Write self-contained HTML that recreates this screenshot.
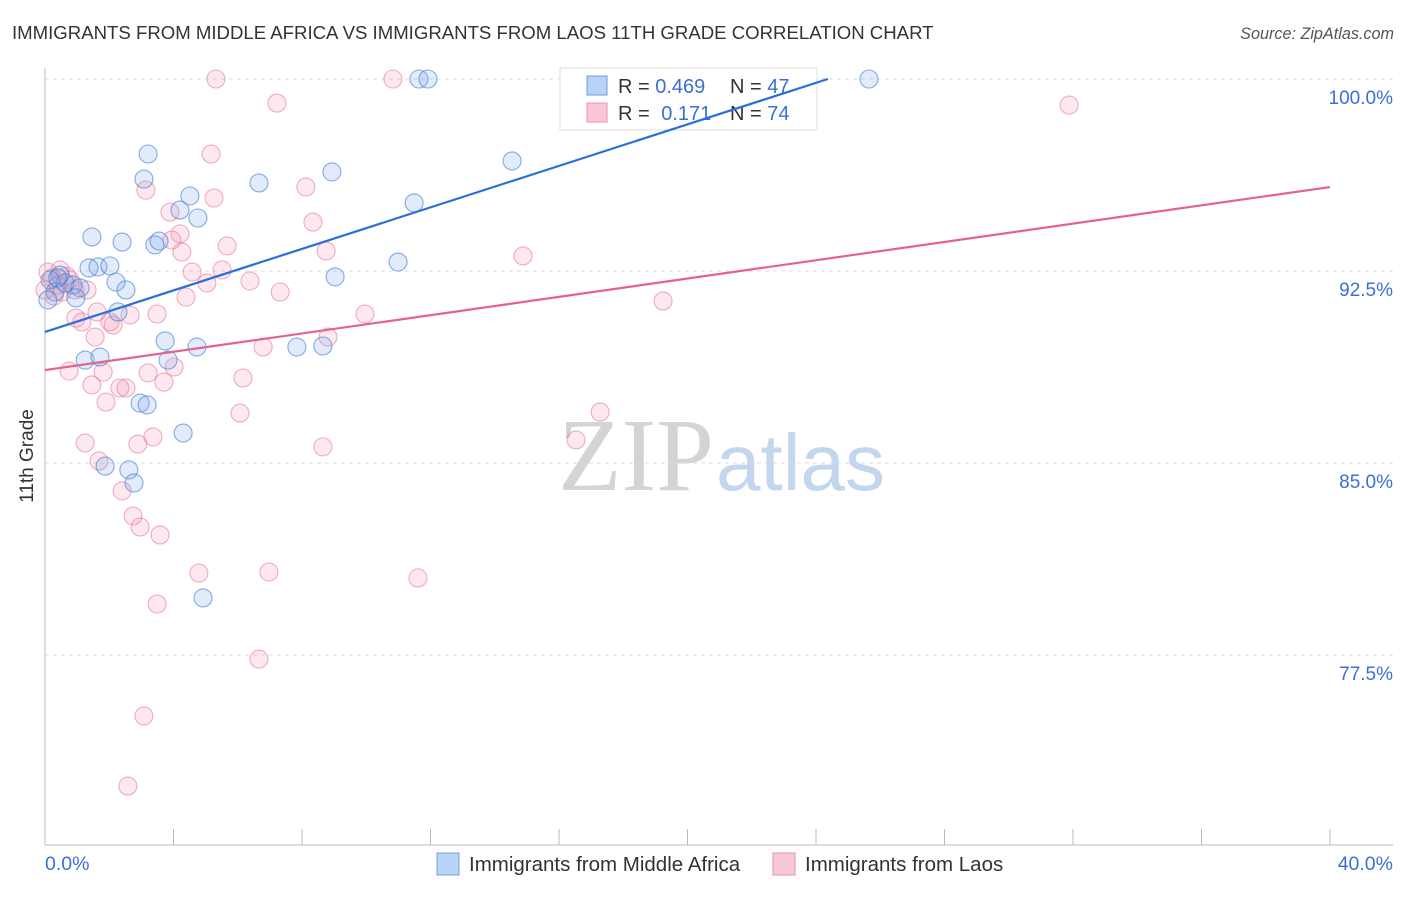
<!DOCTYPE html>
<html><head><meta charset="utf-8"><style>
body{margin:0;background:#fff;font-family:"Liberation Sans",sans-serif;}
</style></head><body>
<svg width="1406" height="892" xmlns="http://www.w3.org/2000/svg">
<text x="12" y="39" font-size="18.6" fill="#333">IMMIGRANTS FROM MIDDLE AFRICA VS IMMIGRANTS FROM LAOS 11TH GRADE CORRELATION CHART</text>
<text x="1394" y="39" font-size="16.2" fill="#555" font-style="italic" text-anchor="end">Source: ZipAtlas.com</text>
<g id="grid"></g>
<text x="714" y="490" font-size="104" fill="#d4d4d4" font-family="Liberation Serif" text-anchor="end">ZIP</text>
<text x="716" y="490" font-size="80" fill="#c4d6ee">atlas</text>
<g id="pts"></g>
<line x1="45" y1="68" x2="45" y2="845" stroke="#bbb"/>
<line x1="45" y1="845" x2="1393" y2="845" stroke="#bbb"/>
<text x="33" y="456" font-size="19" fill="#333" transform="rotate(-90 33 456)" text-anchor="middle">11th Grade</text>
<text x="45" y="870" font-size="19.5" fill="#3b6fd6">0.0%</text>
<text x="1393" y="870" font-size="19.5" fill="#3b6fd6" text-anchor="end">40.0%</text>
<g>
<rect x="560" y="68" width="257" height="62" fill="#fff" fill-opacity="0.85" stroke="#ddd"/>
<rect x="587" y="76" width="20" height="19" fill="#b9d2f5" stroke="#6f9de0"/>
<rect x="587" y="103" width="20" height="19" fill="#f9c6d6" stroke="#ec92b0"/>
<text x="618" y="93" font-size="20" fill="#333">R = <tspan fill="#3b6fd6">0.469</tspan></text>
<text x="730" y="93" font-size="20" fill="#333">N = <tspan fill="#3b6fd6">47</tspan></text>
<text x="618" y="120" font-size="20" fill="#333">R = <tspan fill="#3b6fd6" dx="6">0.171</tspan></text>
<text x="730" y="120" font-size="20" fill="#333">N = <tspan fill="#3b6fd6">74</tspan></text>
</g>
<g id="lines"></g>
<g>
<rect x="437" y="853" width="22" height="22" fill="#b9d2f5" stroke="#6f9de0"/>
<text x="469" y="871" font-size="20.5" fill="#333">Immigrants from Middle Africa</text>
<rect x="773" y="853" width="22" height="22" fill="#f9c6d6" stroke="#ec92b0"/>
<text x="805" y="871" font-size="20.5" fill="#333">Immigrants from Laos</text>
</g>
</svg>
<script>
const yTicks=[100,92.5,85,77.5];
const xTickVals=[0,4,8,12,16,20,24,28,32,36,40];
const blueX=[3.21,3.08,4.51,4.20,4.76,6.66,8.93,1.46,2.40,3.42,3.55,1.37,1.65,2.02,0.47,0.87,1.09,2.21,2.52,0.96,2.27,3.74,4.73,7.84,8.65,1.25,1.71,3.83,2.96,3.18,4.30,1.87,2.61,2.77,4.92,9.03,10.99,11.49,14.54,11.64,11.92,25.65,0.16,0.31,0.62,0.09,0.40];
const blueY=[97.07,96.09,95.43,94.88,94.57,95.94,96.37,93.83,93.63,93.52,93.67,92.62,92.66,92.70,92.34,91.95,91.84,92.07,91.76,91.45,90.90,89.77,89.53,89.53,89.57,89.02,89.14,89.02,87.34,87.27,86.17,84.88,84.73,84.22,79.73,92.27,92.85,95.16,96.80,100,100,100,92.15,91.68,92.03,91.37,92.23];
const pinkX=[5.32,10.83,7.22,31.88,5.17,3.14,5.26,3.89,8.12,8.34,4.20,3.95,5.67,4.26,8.75,14.88,4.58,5.51,6.38,5.04,7.32,4.39,1.31,0.78,19.24,9.96,2.65,3.49,1.62,0.96,1.15,2.02,2.12,1.56,8.81,6.79,0.75,1.81,3.21,4.02,6.16,1.46,2.33,2.52,3.70,1.90,6.07,17.28,3.36,2.89,1.25,8.65,16.53,1.68,2.40,2.74,2.96,3.58,4.79,6.97,11.61,3.49,6.66,3.08,2.58,0.22,0.40,0.53,0.68,0.0,0.28,0.93,0.09,0.47];
const pinkY=[100,100,99.06,98.98,97.07,95.66,95.35,94.80,95.78,94.41,93.95,93.71,93.48,93.24,93.28,93.09,92.46,92.54,92.11,92.03,91.68,91.48,91.76,92.15,91.33,90.82,90.78,90.82,90.90,90.66,90.51,90.51,90.39,89.92,89.92,89.53,88.59,88.55,88.52,88.75,88.32,88.05,87.93,87.93,88.16,87.38,86.95,86.99,86.02,85.74,85.78,85.63,85.90,85.08,83.91,82.93,82.50,82.19,80.70,80.74,80.51,79.49,77.34,75.12,72.38,92.23,91.95,91.68,92.30,91.76,91.52,91.76,92.46,92.54];
const blueLine=[0,90.12,24.37,100];
const pinkLine=[0,88.63,40,95.78];
const NS='http://www.w3.org/2000/svg';
const sx=v=>45+v/40*1285;
const sy=v=>79+(100-v)*25.6;
function mk(t,a,p){const e=document.createElementNS(NS,t);for(const k in a)e.setAttribute(k,a[k]);p.appendChild(e);return e;}
const grid=document.getElementById('grid');
yTicks.forEach(v=>{
 const l=mk('line',{x1:45,x2:1393,y1:sy(v),y2:sy(v),stroke:'#ddd','stroke-dasharray':'4,4'},grid);
 
 
 const t=mk('text',{x:1393,y:sy(v)+25,'font-size':19,fill:'#3b6fd6','text-anchor':'end'},grid);
 t.textContent=v.toFixed(1)+'%';
 
 
});
xTickVals.forEach(v=>{
 const l=mk('line',{x1:sx(v),x2:sx(v),y1:829,y2:845,stroke:'#bbb'},grid);
 
 
});
const pts=document.getElementById('pts');
pinkX.forEach((x,i)=>{
 const c=mk('circle',{cx:sx(x),cy:sy(pinkY[i]),r:9,fill:'rgba(240,140,170,0.2)',stroke:'rgba(230,110,150,0.55)','stroke-width':1.1},pts);
 
 
});
blueX.forEach((x,i)=>{
 const c=mk('circle',{cx:sx(x),cy:sy(blueY[i]),r:9,fill:'rgba(120,165,230,0.22)',stroke:'rgba(60,120,210,0.6)','stroke-width':1.1},pts);
 
 
});
const lines=document.getElementById('lines');
const bl=mk('line',{x1:sx(blueLine[0]),y1:sy(blueLine[1]),x2:sx(blueLine[2]),y2:sy(blueLine[3]),stroke:'#2a6fd8','stroke-width':2.2},lines);


const pl=mk('line',{x1:sx(pinkLine[0]),y1:sy(pinkLine[1]),x2:sx(pinkLine[2]),y2:sy(pinkLine[3]),stroke:'#e4628f','stroke-width':2.2},lines);


</script>
</body></html>
